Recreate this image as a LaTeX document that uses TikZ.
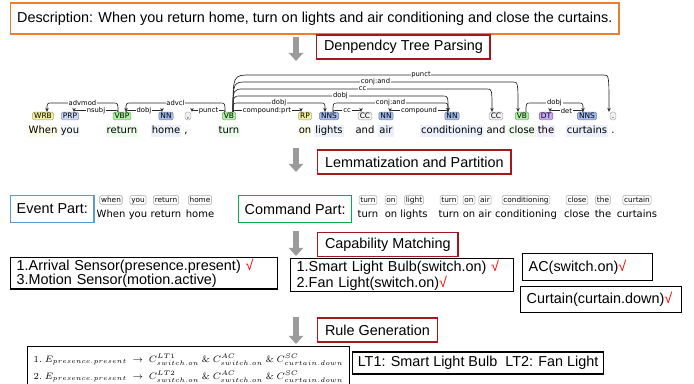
\documentclass[tikz,border=0pt]{standalone}
\usepackage[no-math]{fontspec}
\setmainfont{Liberation Sans}
\newfontfamily\depfont{DejaVu Sans}
\usetikzlibrary{positioning,calc,arrows.meta}

\definecolor{descorange}{HTML}{ED7D31}
\definecolor{stagered}{HTML}{A5171C}
\definecolor{eventblue}{HTML}{5B9BD5}
\definecolor{cmdgreen}{HTML}{00B050}
\definecolor{arrowgray}{HTML}{9B9B9B}
\definecolor{tagyellow}{HTML}{F2F09C}
\definecolor{tagprp}{HTML}{CCDAF6}
\definecolor{tagnoun}{HTML}{A4BCED}
\definecolor{tagverb}{HTML}{ADF0A2}
\definecolor{tagcc}{HTML}{F2F2F2}
\definecolor{tagdt}{HTML}{C9A9F3}

\tikzset{
  textbox/.style={draw, line width=1.1pt, anchor=west, inner xsep=4.8pt, minimum height=18pt, font=\fontsize{10.8}{13}\selectfont},
  stagebox/.style={textbox, draw=stagered, inner xsep=5.5pt},
  flowarrow/.style={draw=arrowgray, line width=4.5pt, -{Triangle[length=6pt,width=10.5pt]}},
  deptag/.style={fill=#1, draw=#1!70!black, rounded corners=1pt, inner xsep=1.2pt, inner ysep=0.6pt, text height=4.2pt, text depth=0.4pt, font=\depfont\fontsize{5.6}{6}\selectfont},
  depword/.style={fill=#1!22, inner xsep=0.8pt, inner ysep=1pt, text height=5.6pt, text depth=1.6pt, font=\depfont\fontsize{7.5}{9}\selectfont},
  deparc/.style={draw=black!85, line width=0.5pt, -{Stealth[length=3pt,width=2.6pt]}},
  deplabel/.style={fill=white, inner sep=0.6pt, font=\depfont\fontsize{5.1}{6}\selectfont},
  lemtag/.style={draw=gray!70, fill=white, rounded corners=1pt, inner xsep=1pt, inner ysep=0.7pt, text height=4.2pt, text depth=1.1pt, font=\depfont\fontsize{5.5}{6}\selectfont},
  lemword/.style={inner sep=0.5pt, text height=5.6pt, text depth=1.6pt, font=\depfont\fontsize{7.5}{9}\selectfont},
  infobox/.style={draw, line width=1.1pt, anchor=north west, align=left, inner xsep=4.5pt, inner ysep=1pt, font=\fontsize{10.8}{10.5}\selectfont}
}

\begin{document}
\begin{tikzpicture}[x=0.75pt, y=-0.75pt]
    \useasboundingbox (0,0) rectangle (694,384);
    \clip (0,0) rectangle (694,384);

    % Description
    \node[textbox, draw=descorange, minimum height=23pt] (desc) at (10,18.5) {Description: When you return home, turn on lights and air conditioning and close the curtains.};

    % Stages
    \node[stagebox] (parse) at (316,47) {Denpendcy Tree Parsing};
    \node[stagebox] (lemma) at (317,162) {Lemmatization and Partition};
    \node[stagebox] (match) at (317,244.5) {Capability Matching};
    \node[stagebox] (rulegen) at (317,330) {Rule Generation};

    \coordinate (a1s) at (296,37);  \coordinate (a1e) at (296,61);
    \coordinate (a2s) at (296,148); \coordinate (a2e) at (296,172);
    \coordinate (a3s) at (296,231); \coordinate (a3e) at (296,256);
    \coordinate (a4s) at (296,317); \coordinate (a4e) at (296,344);
    \draw[flowarrow] (a1s) -- (a1e);
    \draw[flowarrow] (a2s) -- (a2e);
    \draw[flowarrow] (a3s) -- (a3e);
    \draw[flowarrow] (a4s) -- (a4e);

    % Dependency tree
    \node[depword=tagyellow] (wwhen) at (43,131) {When};
    \node[deptag=tagyellow] (twhen) at (43,116) {WRB};
    \node[depword=tagprp] (wyou) at (70,131) {you};
    \node[deptag=tagprp] (tyou) at (70,116) {PRP};
    \node[depword=tagverb] (wret) at (122,131) {return};
    \node[deptag=tagverb] (tret) at (122,116) {VBP};
    \node[depword=tagnoun] (whome) at (166,131) {home};
    \node[deptag=tagnoun] (thome) at (166,116) {NN};
    \node[depword=tagcc] (wcomma) at (186,131) {,};
    \node[deptag=tagcc] (tcomma) at (188,116) {,};
    \node[depword=tagverb] (wturn) at (229,131) {turn};
    \node[deptag=tagverb] (tturn) at (229,116) {VB};
    \node[depword=tagyellow] (won) at (305,131) {on};
    \node[deptag=tagyellow] (ton) at (305,116) {RP};
    \node[depword=tagnoun] (wlights) at (329,131) {lights};
    \node[deptag=tagnoun] (tlights) at (329,116) {NNS};
    \node[depword=tagcc] (wanda) at (365,131) {and};
    \node[deptag=tagcc] (tanda) at (365,116) {CC};
    \node[depword=tagnoun] (wair) at (386,131) {air};
    \node[deptag=tagnoun] (tair) at (386,116) {NN};
    \node[depword=tagnoun] (wcond) at (452,131) {conditioning};
    \node[deptag=tagnoun] (tcond) at (452,116) {NN};
    \node[depword=tagcc] (wandb) at (496,131) {and};
    \node[deptag=tagcc] (tandb) at (496,116) {CC};
    \node[depword=tagverb] (wclose) at (522,131) {close};
    \node[deptag=tagverb] (tclose) at (522,116) {VB};
    \node[depword=tagdt] (wthe) at (546,131) {the};
    \node[deptag=tagdt] (tthe) at (546,116) {DT};
    \node[depword=tagnoun] (wcurtains) at (587,131) {curtains};
    \node[deptag=tagnoun] (tcurtains) at (587,116) {NNS};
    \node[depword=tagcc] (wperiod) at (613,131) {.};
    \node[deptag=tagcc] (tperiod) at (613,116) {.};

    \foreach \hn/\dn/\lev/\lab in {tret/twhen/103/advmod, tret/tyou/110.5/nsubj,
        tret/thome/110.5/dobj, tturn/tret/103/advcl, tturn/tcomma/110.5/punct,
        tturn/ton/110.5/compound:prt, tturn/tlights/103/dobj, tturn/tcond/96/dobj,
        tturn/tandb/89/cc, tturn/tclose/82/conj:and, tturn/tperiod/75/punct,
        tlights/tanda/110.5/cc, tlights/tcond/103/conj:and, tcond/tair/110.5/compound,
        tclose/tcurtains/103/dobj, tcurtains/tthe/110.5/det}
      \draw[deparc] let \p1=(\hn.north), \p2=(\dn.north), \p3=(0,\lev),
          \n1={(\x2>\x1)?1:-1}, \n2={max(4,0.5*(\y3-\y1))} in
          ({\x1+3*\n1},\y1) .. controls ({\x1+3*\n1},\y3) .. ({\x1+(3+\n2)*\n1},\y3)
          -- ({\x2-7*\n1},\y3) .. controls ({\x2-3*\n1},\y3) .. ({\x2-3*\n1},\y1)
          node[deplabel] at ({(\x1+\x2)/2},\y3) {\lab};

    % Lemmatization and partition
    \node[textbox, draw=eventblue, minimum height=20pt, inner xsep=4.5pt] (event) at (10,209) {Event Part:};
    \node[textbox, draw=cmdgreen, minimum height=20pt, inner xsep=4.5pt] (command) at (238,209) {Command Part:};
    \foreach \n/\x/\lem/\orig in {e1/111/when/When, e2/138/you/you, e3/166/return/return,
        e4/200/home/home, c1/368/turn/turn, c2/391/on/on, c3/414/light/lights,
        c4/449/turn/turn, c5/469/on/on, c6/485/air/air, c7/526/conditioning/conditioning,
        c8/577/close/close, c9/603/the/the, c10/637/curtain/curtains}
    {
      \node[lemtag] (t\n) at (\x,200) {\lem};
      \node[lemword] (w\n) at (\x,215) {\orig};
    }

    % Capability matching
    \node[infobox, text width=191pt, minimum height=23.25pt] (sensors) at (10,257)
      {1.Arrival Sensor(presence.present) {\color{red}√}\\3.Motion Sensor(motion.active)};
    \node[infobox, text width=158pt, minimum height=24pt] (lights) at (290,258)
      {1.Smart Light Bulb(switch.on) {\color{red}√}\\2.Fan Light(switch.on){\color{red}√}};
    \node[infobox, text width=88.5pt, minimum height=20.25pt] (ac) at (522,253)
      {AC(switch.on){\color{red}√}};
    \node[infobox, text width=111.75pt, minimum height=19.5pt] (curtain) at (520,286)
      {Curtain(curtain.down){\color{red}√}};

    % Rules
    \node[infobox, minimum width=235.5pt, inner ysep=5.5pt, font=\fontsize{7.05}{12.75}\selectfont] (rules) at (27,346)
      {$\mathrm{1.}\ E_{presence.present}\ \rightarrow\ C^{LT1}_{switch.on}\ \&\ C^{AC}_{switch.on}\ \&\ C^{SC}_{curtain.down}$\\
       $\mathrm{2.}\ E_{presence.present}\ \rightarrow\ C^{LT2}_{switch.on}\ \&\ C^{AC}_{switch.on}\ \&\ C^{SC}_{curtain.down}$};
    \node[textbox, minimum height=15pt, inner xsep=3.8pt] (ltkey) at (352,363) {LT1: Smart Light Bulb\ \ LT2: Fan Light};
\end{tikzpicture}
\end{document}
